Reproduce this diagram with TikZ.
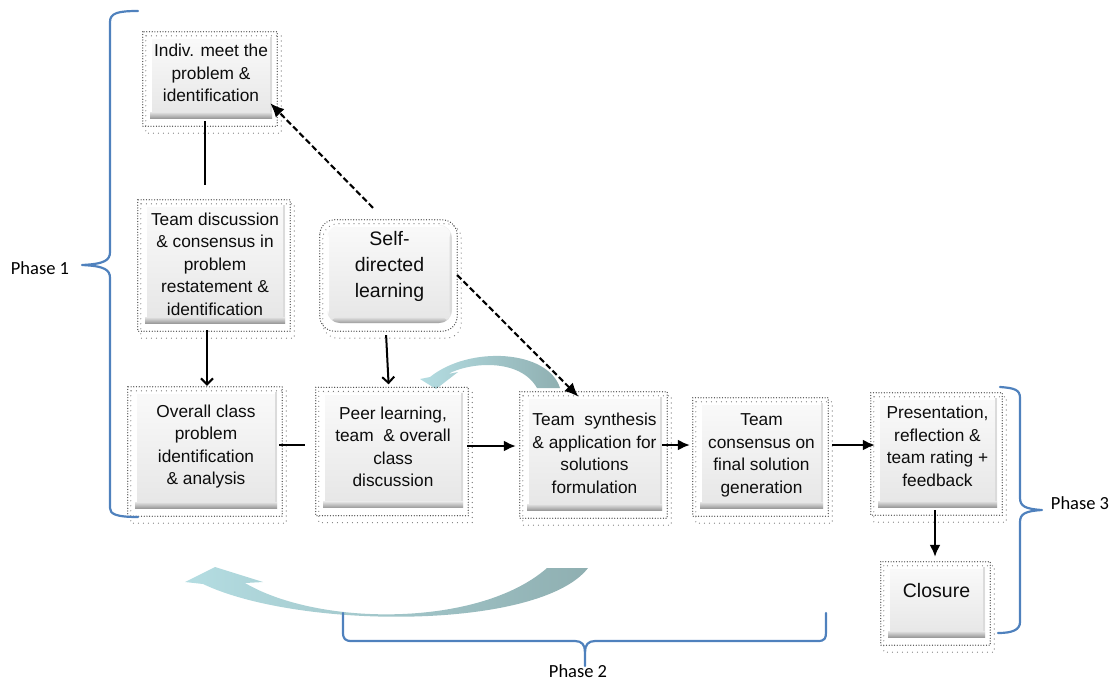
\documentclass[tikz,border=0pt]{standalone}
\usepackage{fontspec}
\setmainfont{Liberation Sans}
\newfontfamily\phasefont{Carlito}
\usetikzlibrary{arrows.meta,calc}
\definecolor{boxfill}{HTML}{F2F2F2}
\definecolor{bevel}{HTML}{9C9C9C}
\definecolor{dotcol}{HTML}{404040}
\definecolor{bracecol}{HTML}{4F81BD}
\definecolor{arrowlight}{HTML}{B4DDE2}
\definecolor{arrowdark}{HTML}{8FAFB1}
\definecolor{txt}{HTML}{0D0D0D}
\newcommand\dframe[2][0pt]{%
  \draw[frameA, rounded corners=#1] ([shift={(-7,-5)}]#2.north west) rectangle ([shift={(5,8)}]#2.south east);
  \draw[frameB, rounded corners=#1] ([shift={(-4,-1)}]#2.north west) rectangle ([shift={(9,15)}]#2.south east);
}
\begin{document}
\begin{tikzpicture}[x=1pt,y=-1pt,
  frameA/.style={draw=dotcol, line width=1.3pt, dash pattern=on 0pt off 2.7pt, line cap=round},
  frameB/.style={draw=dotcol!75, line width=1.2pt, dash pattern=on 0pt off 5pt, line cap=round},
  boxbase/.style={inner sep=0pt, align=center, text=txt,
    font=\fontsize{17.3}{22.5}\selectfont,
    top color=white!60!boxfill, bottom color=boxfill!95!black,
    path picture={
      \fill[white] (path picture bounding box.north west) rectangle ([shift={(2,0)}]path picture bounding box.south west);
      \fill[white] (path picture bounding box.north west) rectangle ([shift={(0,2)}]path picture bounding box.north east);
      \fill[gray!28] ([shift={(-2.5,0)}]path picture bounding box.north east) rectangle (path picture bounding box.south east);
      \shade[top color=gray!20, bottom color=bevel] ([shift={(0,-6)}]path picture bounding box.south west) rectangle (path picture bounding box.south east);
    }},
  bigtext/.style={font=\fontsize{19.5}{26}\selectfont},
  conn/.style={line width=2pt, draw=black},
  arr/.style={conn, -{Latex[length=12pt,width=11pt]}},
  barb/.style={conn, -{Straight Barb[length=6pt,width=12pt]}},
  dasharr/.style={line width=2.1pt, dash pattern=on 6pt off 3pt, -{Latex[length=14pt,width=12pt]}},
  brace/.style={draw=bracecol, line width=2.2pt, line cap=round, line join=round},
  phase/.style={font=\phasefont\fontsize{18.5}{20}\selectfont, text=black, inner sep=0pt}
]
\useasboundingbox (0,0) rectangle (1115,681);

% curved arrows
\shade[left color=arrowlight, middle color=white, right color=arrowdark]
  (185,582) -- (215,567) -- (263,582) -- (245,583)
  .. controls (320,627) and (480,627) .. (547,568) -- (588,568)
  .. controls (540,630) and (300,630) .. (203,584) -- cycle;
\shade[left color=arrowlight, middle color=white!85!arrowlight, right color=arrowdark]
  (560,388) .. controls (548,350) and (470,345) .. (430,377) -- (420,379) -- (436,389) -- (458,372) -- (448,374)
  .. controls (470,362) and (520,358) .. (537,388) -- cycle;

% boxes
\node[boxbase, minimum width=122pt, minimum height=81pt, text depth=9pt] (indiv) at (211,77.5)
  {Indiv. meet the\\problem \&\\identification};
\node[boxbase, minimum width=140pt, minimum height=118pt] (teamdisc) at (215,264)
  {Team discussion\\\& consensus in\\problem\\restatement \&\\identification};
\node[boxbase, bigtext, rounded corners=13pt, minimum width=125pt, minimum height=98pt, text depth=20pt] (self) at (389.5,274)
  {Self-\\directed\\learning};
\node[boxbase, minimum width=142pt, minimum height=116pt, text depth=10.5pt] (overall) at (206,450)
  {Overall class\\problem\\identification\\\& analysis};
\node[boxbase, minimum width=140pt, minimum height=115pt, text depth=7pt] (peer) at (393,450)
  {Peer learning,\\team~ \& overall\\class\\discussion};
\node[boxbase, minimum width=135pt, minimum height=113pt] (synth) at (594.5,453.5)
  {Team~ synthesis\\\& application for\\solutions\\formulation};
\node[boxbase, minimum width=123pt, minimum height=105pt] (consensus) at (761.5,455.5)
  {Team\\consensus on\\final solution\\generation};
\node[boxbase, minimum width=119pt, minimum height=109pt, text depth=13pt] (pres) at (937.5,452.5)
  {Presentation,\\reflection \&\\team rating +\\feedback};
\node[boxbase, bigtext, minimum width=97pt, minimum height=70pt, text height=14pt, text depth=24pt] (closure) at (936.5,602)
  {Closure};

% dotted frames
\dframe{indiv}
\dframe{teamdisc}
\dframe[15pt]{self}
\dframe{overall}
\dframe{peer}
\dframe{synth}
\dframe{consensus}
\dframe{pres}
\dframe{closure}

% connectors
\draw[conn, shorten <=3pt, shorten >=20pt] ([shift={(-6,0)}]indiv.south) -- ([shift={(-10,0)}]teamdisc.north);
\draw[barb, shorten <=7pt, shorten >=6pt] ([shift={(-8,0)}]teamdisc.south) -- ([shift={(1,0)}]overall.north);
\draw[barb, shorten <=12pt, shorten >=8pt] ([shift={(-4,0)}]self.south) -- ([shift={(-4,0)}]peer.north);
\draw[conn] ([shift={(2,-5)}]overall.east) -- ([shift={(-18,-5)}]peer.west);
\draw[arr] ([shift={(4,-4)}]peer.east) -- ([shift={(-11,-7.5)}]synth.west);
\draw[arr] ([shift={(0,-8.5)}]synth.east) -- ([shift={(-10,-10.5)}]consensus.west);
\draw[arr] ([shift={(9,-10.5)}]consensus.east) -- ([shift={(-3,-7.5)}]pres.west);
\draw[arr] ([shift={(-2.5,3)}]pres.south) -- ([shift={(-1.5,-10)}]closure.north);
\draw[dasharr] ([shift={(-16.5,-17)}]self.north) -- ([shift={(-2,-15)}]indiv.south east);
\draw[dasharr] ([shift={(5,1)}]self.east) -- ([shift={(-16,0)}]synth.north);

% braces
\draw[brace] (138,11) .. controls (118,11) and (110,13) .. (110,22) -- (110,252)
  .. controls (110,260) and (105,264) .. (82,265)
  .. controls (105,266) and (110,270) .. (110,278) -- (110,508)
  .. controls (110,514) and (116,517) .. (138,517);
\draw[brace] (343,613) -- (343,632) .. controls (343,639) and (345,641) .. (352,641) -- (575,641)
  .. controls (582,641) and (585,645) .. (585,652) -- (585,666);
\draw[brace] (585,652) .. controls (585,645) and (588,641) .. (595,641) -- (818,641)
  .. controls (825,641) and (826,638) .. (826,632) -- (826,613);
\draw[brace] (1000,387) .. controls (1015,388) and (1020,390) .. (1020,398) -- (1020,498)
  .. controls (1020,506) and (1025,509) .. (1042,510)
  .. controls (1025,511) and (1020,514) .. (1020,522) -- (1020,622)
  .. controls (1020,630) and (1012,633) .. (998,633);

\node[phase] (p1) at (40,268) {Phase 1};
\node[phase] (p2) at (578,671) {Phase 2};
\node[phase] (p3) at (1080,503) {Phase 3};
\end{tikzpicture}
\end{document}
